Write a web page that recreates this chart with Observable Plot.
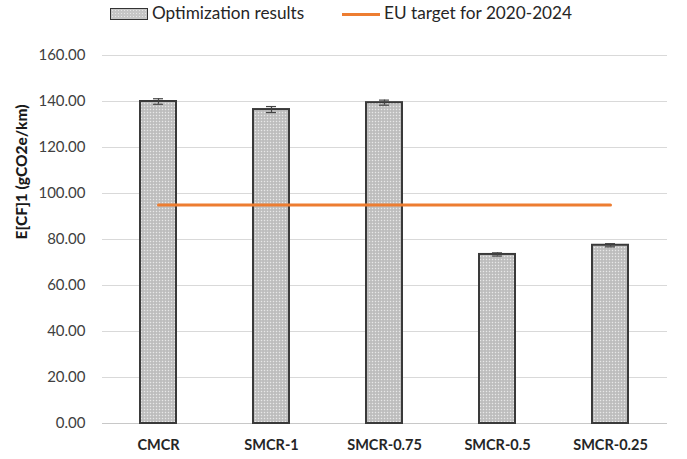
<!DOCTYPE html>
<html>
<head>
<meta charset="utf-8">
<script src="https://cdn.jsdelivr.net/npm/d3@7"></script>
<script src="https://cdn.jsdelivr.net/npm/@observablehq/plot@0.6"></script>
<style>
  html, body { margin: 0; padding: 0; background: #fff; }
  #wrap { position: relative; width: 687px; height: 459px; font-family: Lato, "Open Sans", sans-serif; }
  #legend { position: relative; height: 28px; font-size: 17.2px; color: #262626; }
  .sw { position: absolute; top: 8px; width: 36px; height: 10px; border: 1px solid #333;
        background-color: #c6c6c6;
        background-image: radial-gradient(#e6e6e6 0.6px, transparent 0.8px);
        background-size: 3px 3px; }
  .ln { position: absolute; top: 13px; width: 38px; height: 3px; background: #ED7D31; }
  .lt { position: absolute; top: 3px; line-height: 20px; white-space: nowrap; }
  #chart svg { display: block; }
</style>
</head>
<body>
<div id="wrap">
  <div id="legend">
    <div class="sw" style="left:110px"></div>
    <div class="lt" style="left:152px">Optimization results</div>
    <div class="ln" style="left:342px"></div>
    <div class="lt" style="left:384px">EU target for 2020-2024</div>
  </div>
  <div id="chart"></div>
</div>
<script>
const categories = ["CMCR", "SMCR-1", "SMCR-0.75", "SMCR-0.5", "SMCR-0.25"];
const values = [140.0, 136.5, 139.5, 73.5, 77.5];
const errors = [1.2, 1.3, 1.1, 0.7, 0.7];
const target = [95, 95, 95, 95, 95];
const yTicks = [0, 20, 40, 60, 80, 100, 120, 140, 160];
const yLabel = "E[CF]1 (gCO2e/km)";

const data = categories.map((c, i) => ({
  cat: c, value: values[i], lo: values[i] - errors[i], hi: values[i] + errors[i], target: target[i]
}));

const chart = Plot.plot({
  width: 687,
  height: 431,
  marginTop: 27,
  marginBottom: 36,
  marginLeft: 102,
  marginRight: 20,
  style: { fontFamily: "Lato, 'Open Sans', sans-serif", fontSize: "15px", color: "#404040", background: "#fff" },
  x: { domain: categories, paddingInner: 0.68, paddingOuter: 0.34, label: null },
  y: { domain: [0, 160], label: null },
  marks: [
    Plot.gridY(yTicks, { stroke: "#d9d9d9", strokeOpacity: 1, strokeWidth: 1 }),
    Plot.ruleY([0], { stroke: "#c8c8c8", strokeWidth: 1.2 }),
    Plot.axisY(yTicks, { tickFormat: d3.format(".2f"), tickSize: 0, tickPadding: 17, label: null, fontSize: 15, fill: "#404040" }),
    Plot.axisX({ tickSize: 0, tickPadding: 16, label: null, fontSize: 14.5, fontWeight: "bold", fill: "#262626" }),
    Plot.barY(data, { x: "cat", y: "value", fill: "url(#dotpat)", stroke: "#3a3a3a", strokeWidth: 2 }),
    Plot.ruleX(data, { x: "cat", y1: "lo", y2: "hi", stroke: "#444", strokeWidth: 1.2 }),
    Plot.tickY(data, { x: "cat", y: "hi", stroke: "#444", strokeWidth: 1.2, insetLeft: 13, insetRight: 13 }),
    Plot.tickY(data, { x: "cat", y: "lo", stroke: "#444", strokeWidth: 1.2, insetLeft: 13, insetRight: 13 }),
    Plot.line(data, { x: "cat", y: "target", stroke: "#ED7D31", strokeWidth: 3 }),
    Plot.text([yLabel], { frameAnchor: "left", rotate: -90, dx: -80, text: d => d, fontWeight: 900, fontSize: 15.5, fill: "#1a1a1a" })
  ]
});

// pattern definition for the stippled bar fill
const ns = "http://www.w3.org/2000/svg";
const defs = document.createElementNS(ns, "defs");
defs.innerHTML = `<pattern id="dotpat" width="3" height="3" patternUnits="userSpaceOnUse">
  <rect width="3" height="3" fill="#c4c4c4"></rect>
  <rect x="0" y="0" width="1" height="1" fill="#e8e8e8"></rect>
  <rect x="1.5" y="1.5" width="1" height="1" fill="#a8a8a8"></rect>
</pattern>`;
chart.insertBefore(defs, chart.firstChild);

document.getElementById("chart").appendChild(chart);
</script>
</body>
</html>
